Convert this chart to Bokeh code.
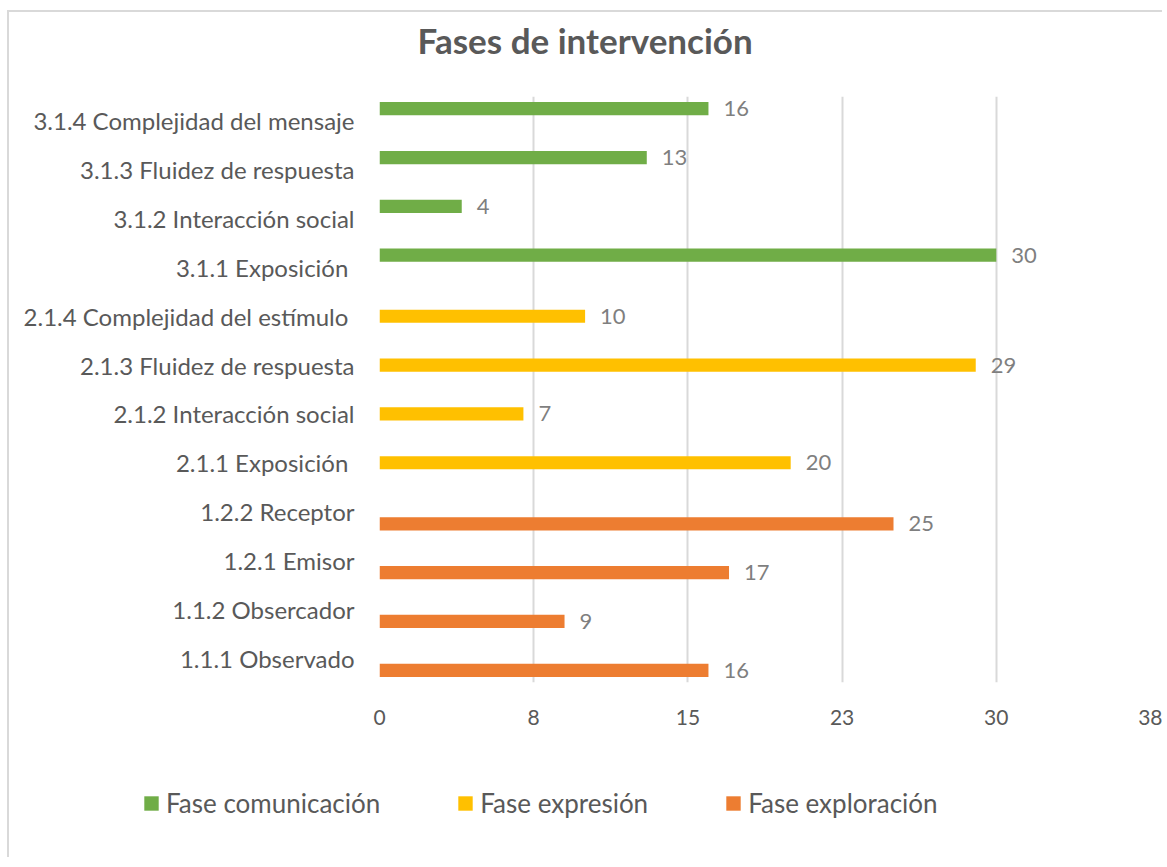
from bokeh.plotting import figure
from bokeh.models import ColumnDataSource, FactorRange, FixedTicker, LabelSet, Legend, LegendItem, Title, Range1d
from bokeh.transform import dodge
from bokeh.core.properties import value
from bokeh.embed import file_html
from bokeh.resources import INLINE

categories = [
    "1.1.1 Observado", "1.1.2 Obsercador", "1.2.1 Emisor", "1.2.2 Receptor",
    "2.1.1 Exposición ", "2.1.2 Interacción social", "2.1.3 Fluidez de respuesta",
    "2.1.4 Complejidad del  estímulo",
    "3.1.1 Exposición ", "3.1.2 Interacción social", "3.1.3 Fluidez de respuesta",
    "3.1.4 Complejidad del mensaje",
]
exploracion_cats = categories[0:4]
exploracion_vals = [16, 9, 17, 25]
expresion_cats = categories[4:8]
expresion_vals = [20, 7, 29, 10]
comunicacion_cats = categories[8:12]
comunicacion_vals = [30, 4, 13, 16]
x_ticks = [0, 7.5, 15, 22.5, 30, 37.5]
x_tick_labels = ["0", "8", "15", "23", "30", "38"]

FONT = "Lato"
GREY = "#595959"
W = 1155
BORDER = "2px solid #d9d9d9"

p = figure(width=W, height=730, y_range=FactorRange(*categories), x_range=(0, 37.5),
           output_backend="svg", toolbar_location=None,
           min_border_left=370, min_border_right=14, min_border_top=84, min_border_bottom=60)
p.outline_line_color = None
p.styles = {"border-left": BORDER, "border-top": BORDER, "margin-left": "7px", "margin-top": "10px"}

series = [
    ("Fase comunicación", comunicacion_cats, comunicacion_vals, "#70AD47", 0.25),
    ("Fase expresión", expresion_cats, expresion_vals, "#FFC000", 0.0),
    ("Fase exploración", exploracion_cats, exploracion_vals, "#ED7D31", -0.25),
]
for name, cats, vals, color, off in series:
    src = ColumnDataSource(dict(cat=cats, val=vals, lab=[str(v) for v in vals]))
    p.hbar(y=dodge("cat", off, range=p.y_range), right="val", left=0, height=0.27,
           source=src, fill_color=color, line_color=None)
    p.add_layout(LabelSet(x="val", y=dodge("cat", off, range=p.y_range), text="lab", source=src,
                          x_offset=15, text_baseline="middle", text_font=value(FONT),
                          text_font_size="22px", text_color="#7f7f7f"))

# spacer between frame and title, then the title itself
p.add_layout(Title(text=" ", text_font_size="1px", standoff=31), "above")
p.add_layout(Title(text="Fases de intervención", align="left", offset=38, text_font=FONT,
                   text_font_size="35px", text_font_style="bold", text_color=GREY,
                   standoff=4), "above")

p.xaxis.ticker = FixedTicker(ticks=x_ticks)
p.xaxis.major_label_overrides = {t: l for t, l in zip(x_ticks, x_tick_labels)}
p.xaxis.axis_line_color = None
p.xaxis.major_tick_line_color = None
p.xaxis.minor_tick_line_color = None
p.xaxis.major_label_standoff = 21
p.xaxis.major_label_text_font = FONT
p.xaxis.major_label_text_font_size = "21px"
p.xaxis.major_label_text_color = GREY

p.yaxis.axis_line_color = None
p.yaxis.major_tick_line_color = None
p.yaxis.major_label_standoff = 19
p.yaxis.major_label_text_font = FONT
p.yaxis.major_label_text_font_size = "24px"
p.yaxis.major_label_text_color = GREY

p.xgrid.grid_line_color = "#d9d9d9"
p.xgrid.grid_line_width = 2
p.ygrid.grid_line_color = None

# legend strip below the chart (same colours as the bars; swatches only, nothing plotted)
lg = figure(width=W, height=117, x_range=Range1d(0, 1), y_range=Range1d(0, 1),
            x_axis_type=None, y_axis_type=None, output_backend="svg", toolbar_location=None,
            min_border=0)
lg.outline_line_color = None
lg.xgrid.grid_line_color = None
lg.ygrid.grid_line_color = None
lg.styles = {"border-left": BORDER, "margin-left": "7px"}
nan = float("nan")
items = []
for name, cats, vals, color, off in series:
    r = lg.quad(left=[nan], right=[nan], top=[nan], bottom=[nan], fill_color=color, line_color=None)
    items.append(LegendItem(label=name, renderers=[r]))
legend = Legend(items=items, orientation="horizontal", location=(133, 38),
                glyph_width=18, glyph_height=18, label_standoff=6, spacing=76,
                padding=0, margin=0, border_line_color=None, background_fill_alpha=0,
                label_text_font=FONT, label_text_font_size="26px", label_text_color=GREY)
lg.add_layout(legend, "center")

open("out.html", "w").write(file_html([p, lg], INLINE))
